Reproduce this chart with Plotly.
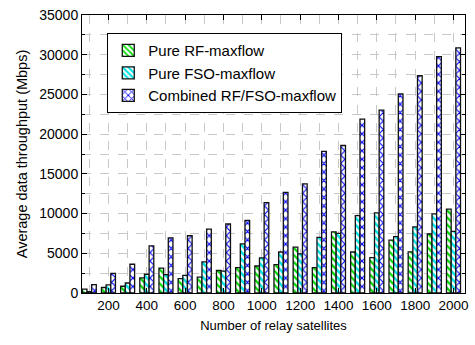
import plotly.graph_objects as go

relays = [100, 200, 300, 400, 500, 600, 700, 800, 900, 1000,
          1100, 1200, 1300, 1400, 1500, 1600, 1700, 1800, 1900, 2000]
pure_rf = [490, 690, 850, 1910, 3130, 1800, 2010, 2830, 3200, 3400,
           3570, 5780, 3200, 7700, 5160, 4450, 6650, 5180, 7430, 10570]
pure_fso = [160, 1020, 1260, 2360, 2320, 2210, 3930, 2750, 6190, 4430,
            5160, 4920, 7010, 7500, 9750, 10080, 7100, 8330, 9960, 7760]
combined = [1060, 2480, 3620, 5930, 6950, 7210, 8030, 8690, 9140, 11390,
            12660, 13730, 17830, 18570, 21890, 23020, 25060, 27350, 29760, 30860]
series_names = ["Pure RF-maxflow", "Pure FSO-maxflow", "Combined RF/FSO-maxflow"]

FONT = "Arial, Liberation Sans, sans-serif"

styles = [
    dict(shape="\\", fg="#00d800", size=5, solidity=0.45),
    dict(shape="\\", fg="#00e0e0", size=5, solidity=0.5),
    dict(shape="x", fg="#0000ff", size=6, solidity=0.35),
]

fig = go.Figure()
for name, vals, st in zip(series_names, [pure_rf, pure_fso, combined], styles):
    fig.add_trace(go.Bar(
        x=relays, y=vals, name=name,
        marker=dict(
            color="white",
            line=dict(color="#111111", width=1.3),
            pattern=dict(shape=st["shape"], fgcolor=st["fg"], bgcolor="white",
                         size=st["size"], solidity=st["solidity"], fillmode="replace"),
        ),
    ))

axis_common = dict(
    showline=True, linecolor="black", linewidth=1, mirror="allticks",
    ticks="inside", ticklen=5, tickcolor="black",
    showgrid=True, gridcolor="#c8c8c8", griddash="dash", gridwidth=1,
    zeroline=False, ticklabeloverflow="allow",
)

fig.update_layout(
    width=475, height=345,
    margin=dict(l=82, r=8, t=7, b=52),
    paper_bgcolor="white", plot_bgcolor="white",
    barmode="group", bargap=0.27, bargroupgap=0,
    font=dict(family=FONT, size=13, color="black"),
    showlegend=True,
    legend=dict(
        x=0.066, y=0.935, xanchor="left", yanchor="top",
        bgcolor="white", bordercolor="black", borderwidth=1,
        font=dict(family=FONT, size=15, color="black"),
        tracegroupgap=0, itemwidth=30,
    ),
    xaxis=dict(
        axis_common,
        range=[62, 2060], tick0=0, dtick=200,
        tickfont=dict(family=FONT, size=13.5, color="black"),
        minor=dict(dtick=100, showgrid=True, gridcolor="#c8c8c8", griddash="dash",
                   ticks=""),
        title=dict(text="Number of relay satellites", font=dict(family=FONT, size=13), standoff=8),
    ),
    yaxis=dict(
        axis_common,
        range=[0, 35000], tick0=0, dtick=5000, tickformat="d",
        tickfont=dict(family=FONT, size=14, color="black"),
        minor=dict(dtick=2500, showgrid=True, gridcolor="#c8c8c8", griddash="dash",
                   ticks="inside", ticklen=3, tickcolor="black"),
        title=dict(text="Average data throughput (Mbps)", font=dict(family=FONT, size=14.5), standoff=8),
    ),
)

fig.write_html(
    "out.html",
    config={"displayModeBar": False},
    post_script="document.body.style.margin='0';document.body.style.overflow='hidden';",
)
